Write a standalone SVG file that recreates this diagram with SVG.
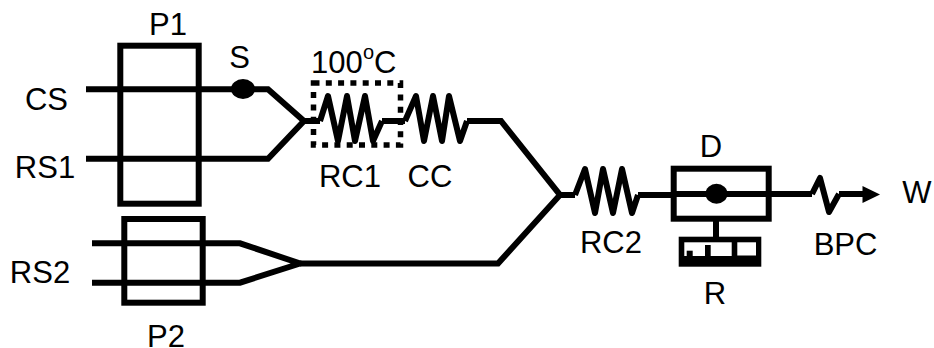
<svg xmlns="http://www.w3.org/2000/svg" width="934" height="348" viewBox="0 0 934 348">
<style>
text{font-family:"Liberation Sans",Arial,sans-serif;font-size:31px;fill:#000;text-anchor:middle}
.s{text-anchor:start}
.l{fill:none;stroke:#000;stroke-width:6;stroke-linejoin:miter}
.c{fill:none;stroke:#000;stroke-width:6;stroke-linejoin:round}
.b{fill:none;stroke:#000;stroke-width:6}
.d{fill:#000}
.w{fill:#fff}
</style>
<rect width="934" height="348" fill="#fff"/>
<g id="connectors">
<path class="l" d="M86 89.300H268L304 121M86 158.700H268L304 121H320"/>
<path class="l" d="M92 243.300H240L300 263.500L240 282.700H92"/>
<path class="l" d="M300 263.500H498L560 195L501 121H467"/>
<path class="l" d="M560 195H575"/>
<path class="l" d="M638 195H672"/>
<path class="l" d="M382 121H405"/>
<path class="l" d="M770 194H812"/>
<path class="l" d="M839 194H864"/>
<path class="d" d="M862.500 186L880 194.500L862.500 203Z"/>
</g>
<g id="P1"><rect class="b" x="120.300" y="45.700" width="78.400" height="158"/><text x="168" y="34.500">P1</text></g>
<g id="P2"><rect class="b" x="124.300" y="219" width="78.400" height="83.700"/><text x="166" y="347">P2</text></g>
<g id="CS"><text x="46.500" y="109.500">CS</text></g>
<g id="RS1"><text x="45" y="177.500">RS1</text></g>
<g id="RS2"><text x="40" y="282.700">RS2</text></g>
<g id="S"><ellipse class="d" cx="243" cy="89" rx="12" ry="10"/><text x="239.700" y="68">S</text></g>
<g id="oven"><rect x="313.500" y="83" width="87" height="62" fill="none" stroke="#000" stroke-width="5.500" stroke-dasharray="6 6.300"/><text class="s" x="311" y="72.500">100</text><text class="s" x="363" y="59" style="font-size:20px">o</text><text class="s" x="374" y="72.500">C</text></g>
<g id="RC1"><path class="c" d="M320 121L328 96L338 141L347 96L355 141L365 96L373 141L382 121"/><text x="350" y="186.500">RC1</text></g>
<g id="CC"><path class="c" d="M405 121L416 96L424 141L433 96L442 141L449 96L460 141L467 121"/><text x="430" y="186.500">CC</text></g>
<g id="RC2"><path class="c" d="M575 195L585 169L595 213L603 169L613 213L622 169L632 213L638 195"/><text x="611" y="252.700">RC2</text></g>
<g id="D"><rect class="b" x="673.700" y="168.700" width="95" height="50"/><ellipse class="d" cx="716.500" cy="193.700" rx="11" ry="10"/><path class="l" d="M672 194H770"/><text x="711" y="157">D</text></g>
<g id="R"><path class="l" d="M716 219V238"/><rect class="d" x="678.700" y="236.700" width="82.600" height="30"/><rect class="w" x="684.300" y="242.300" width="47.400" height="13.700"/><rect class="w" x="737.300" y="242.300" width="18.700" height="13.200"/><rect class="d" x="686.700" y="250.700" width="6" height="5.300"/><rect class="d" x="705" y="245" width="5.700" height="11"/><text x="715" y="304">R</text></g>
<g id="BPC"><path class="c" d="M812 194L820 178L829 212L839 194"/><text x="845.500" y="255">BPC</text></g>
<g id="W"><text x="917" y="203">W</text></g>
</svg>
